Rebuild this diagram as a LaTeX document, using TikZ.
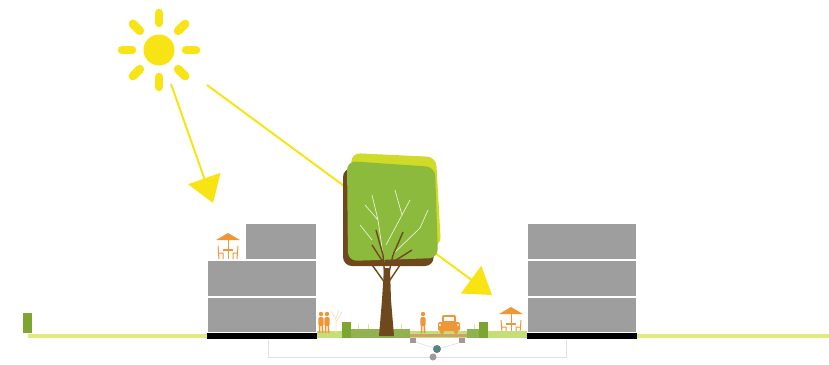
\documentclass[tikz,border=0pt]{standalone}
\usepackage{tikz}
\usetikzlibrary{arrows.meta}
\definecolor{sunyellow}{RGB}{248,228,20}
\definecolor{groundline}{RGB}{228,233,125}
\definecolor{bldgray}{RGB}{158,158,158}
\definecolor{leafgreen}{RGB}{140,186,60}
\definecolor{leafyellow}{RGB}{208,218,40}
\definecolor{barkbrown}{RGB}{112,72,30}
\definecolor{figorange}{RGB}{240,150,55}
\definecolor{bedgreen}{RGB}{125,165,50}
\definecolor{grassgreen}{RGB}{196,222,120}
\definecolor{roadtan}{RGB}{210,160,110}
\definecolor{pipegray}{RGB}{165,150,158}
\definecolor{pipeteal}{RGB}{90,130,132}

\tikzset{
  ray/.style={draw=sunyellow, line width=2pt,
              -{Triangle[length=26pt, width=34pt]}},
  storey/.style={fill=bldgray, draw=white, line width=1.2pt},
  plinth/.style={fill=black},
  % umbrella table
  cafe/.pic={
    \fill[figorange] (-12,-19) -- (0,-26) -- (12,-19) -- cycle;
    \draw[figorange, line width=1pt] (0,-19) -- (0,0);
    \draw[figorange, line width=1.2pt] (-5,-9) -- (5,-9);
    \draw[figorange, line width=1pt] (-10,-13) -- (-9,0) (-9,-6) -- (-5,-6) -- (-5,0);
    \draw[figorange, line width=1pt] (10,-13) -- (9,0) (9,-6) -- (5,-6) -- (5,0);
  },
  walker/.pic={
    \fill[figorange] (0,-19) circle (2.2);
    \fill[figorange, rounded corners=1.5pt] (-2.6,-16) rectangle (2.6,-7);
    \draw[figorange, line width=1.6pt] (-1.3,-8) -- (-1.5,0) (1.3,-8) -- (1.6,0);
  }
}

\begin{document}
\begin{tikzpicture}[x=1pt, y=-1pt]
\useasboundingbox (0,0) rectangle (829,364);

% sun
\node[circle, fill=sunyellow, minimum size=31pt, inner sep=0pt] (sun) at (159,50) {};
\foreach \a in {0,45,...,315}
  \draw[sunyellow, line width=8.5pt, line cap=round, shift={(159,50)}] (\a:27) -- (\a:37);

% sun rays
\coordinate (rayone) at (171,84);
\coordinate (roof) at (213,203);
\coordinate (raytwo) at (207,85);
\coordinate (street) at (492,295);
\draw[ray] (rayone) -- (roof);
\draw[ray] (raytwo) -- (street);

% ground
\draw[groundline, line width=4.5pt] (28,336) -- (829,336);
\fill[bedgreen] (23,313) rectangle (32,333);

% service trench under the street
\draw[black!12, line width=0.6pt] (268,340) -- (268,357) -- (566,357) -- (566,340);
\draw[black!15, line width=0.5pt] (415,342) -- (437,349) -- (462,342);
\draw[black!15, line width=0.5pt] (437,349) -- (433,357);
\fill[pipegray] (410,337) rectangle (416,343);
\fill[pipegray] (459,337) rectangle (465,343);
\fill[pipeteal] (437,349) circle (4);
\fill[pipegray] (433,357) circle (3.5);

% left building
\filldraw[storey] (207,260) rectangle (317,297);
\filldraw[storey] (207,297) rectangle (317,333);
\filldraw[storey] (245,223) rectangle (317,260);
\fill[plinth] (207,333) rectangle (317,339);
\pic at (228,259) {cafe};

% right building
\filldraw[storey] (527,223) rectangle (637,260);
\filldraw[storey] (527,260) rectangle (637,297);
\filldraw[storey] (527,297) rectangle (637,333);
\fill[plinth] (527,333) rectangle (637,339);
\pic at (511,333) {cafe};

% street: planting beds, road, people
\fill[grassgreen] (317,331) rectangle (527,338);
\fill[bedgreen] (342,322) rectangle (351,338);
\fill[bedgreen!85] (351,329) rectangle (410,338);
\fill[bedgreen!85] (467,329) rectangle (480,338);
\fill[bedgreen] (479,322) rectangle (488,338);
\fill[roadtan] (410,334) rectangle (467,337);
\foreach \x in {358,368,381,401,474}
  \draw[grassgreen!70!white, line width=0.6pt] (\x,329) -- (\x,324);
\pic at (321,333) {walker};
\pic at (327,333) {walker};
\pic at (423,333) {walker};
% light street tree
\draw[figorange!30, line width=0.7pt]
  (336,333) -- (336,320) -- (331,311) (336,322) -- (342,312) (336,318) -- (339,310);
% car
\fill[figorange, rounded corners=2pt] (438,322) rectangle (460,331);
\fill[figorange, rounded corners=2pt] (442,315) rectangle (456,323);
\fill[white] (444,317) rectangle (454,321);
\fill[figorange] (442,332) circle (2) (456,332) circle (2);
\fill[white] (440,325) circle (1.2) (458,325) circle (1.2);

% tree crown
\fill[leafyellow, rounded corners=9pt]
  (351,153) -- (436,157) -- (441,246) -- (355,250) -- cycle;
\fill[barkbrown, rounded corners=9pt]
  (343,168) -- (430,172) -- (434,266) -- (343,266) -- cycle;
\fill[leafgreen, rounded corners=9pt]
  (347,161) -- (435,167) -- (438,258) -- (348,261) -- cycle;
% branches inside the crown
\draw[white!80!leafgreen, line width=0.7pt]
  (384,262) -- (378,220) -- (372,195) (378,220) -- (365,205)
  (386,245) -- (402,215) -- (410,200) (402,215) -- (395,190)
  (392,255) -- (420,228) -- (428,210) (372,240) -- (360,225);
\draw[barkbrown, line width=1.4pt]
  (386,290) -- (383,255) -- (376,230) (383,262) -- (372,245)
  (386,285) -- (393,255) -- (403,232) (393,262) -- (412,250)
  (385,283) -- (370,262) (388,283) -- (402,262);
% trunk
\fill[barkbrown]
  (379,336) -- (382,300) -- (384,268) -- (390,268) -- (391,300) -- (394,336) -- cycle;
\end{tikzpicture}
\end{document}
